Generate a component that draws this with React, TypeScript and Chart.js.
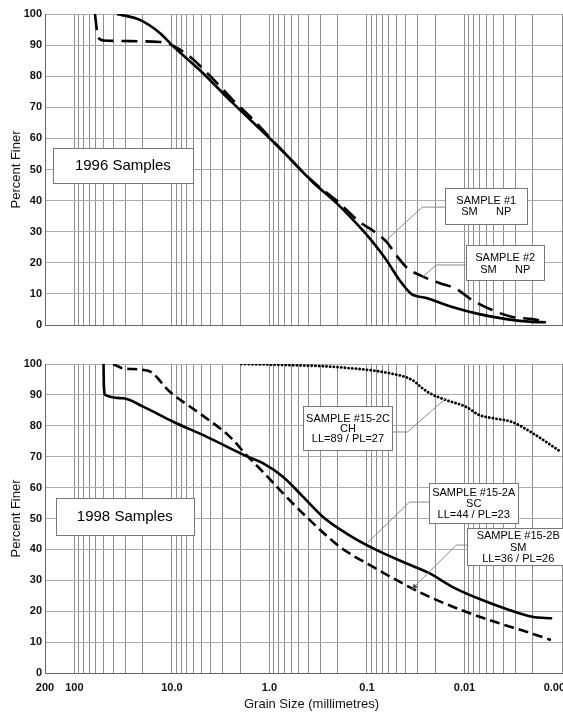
import React, { useEffect, useRef } from 'react';
import { Chart, registerables } from 'chart.js';

Chart.register(...registerables);

// ---------- axis ticks ----------
const xTickValues = [200, 100, 10, 1, 0.1, 0.01, 0.001];
const xTickLabels = ['200', '100', '10.0', '1.0', '0.1', '0.01', '0.001'];
const xMin = 0.001;
const xMax = 200;
const yMin = 0;
const yMax = 100;
const yStep = 10;

// ---------- 1996 samples ----------
const s1Size = [36.6, 21.3, 13.3, 10.0, 5.19, 2.38, 0.787, 0.361, 0.205, 0.1194, 0.0879, 0.0632, 0.0465, 0.0351, 0.0246, 0.01334, 0.00706, 0.00373, 0.00202, 0.00146];
const s1Finer = [100, 98.1, 93.9, 90, 82, 71.4, 56.9, 46, 39.2, 31.6, 26.8, 20.9, 14.5, 10, 8.7, 5.8, 3.5, 1.9, 1.0, 0.9];

const s2Size = [61.5, 57, 50, 13.3, 10.0, 6.56, 3.81, 2.38, 1.49, 0.787, 0.361, 0.205, 0.1194, 0.0838, 0.0632, 0.0488, 0.0385, 0.0277, 0.0181, 0.01213, 0.00832, 0.0052, 0.00324, 0.00202, 0.00146];
const s2Finer = [100, 92.5, 91.5, 91, 90, 86.3, 79.2, 72.4, 66.2, 57, 46.2, 40, 33.2, 30, 26.8, 22, 18.3, 15.8, 13.5, 11.6, 8, 4.8, 2.6, 1.9, 1.0];

// ---------- 1998 samples ----------
const s15aSize = [50.2, 49.9, 48.3, 31.6, 19.7, 9.72, 4.43, 1.725, 1.167, 0.728, 0.454, 0.284, 0.163, 0.0873, 0.0397, 0.0229, 0.01334, 0.00658, 0.00348, 0.00202, 0.00126];
const s15aFiner = [100, 93.5, 90, 88.9, 86.2, 81.3, 76.5, 70.2, 67.9, 63.5, 57.1, 50.6, 45.2, 40.4, 35.5, 32.3, 27.9, 23.6, 20.4, 18.2, 17.7];

const s15bSize = [40.0, 31.6, 17.5, 10.5, 5.19, 2.55, 1.725, 1.167, 0.728, 0.419, 0.191, 0.0873, 0.0345, 0.0212, 0.00966, 0.00441, 0.00235, 0.0013];
const s15bFiner = [100, 98.6, 97.8, 91.0, 84.0, 76.5, 70.6, 65.1, 58.2, 50.6, 40.9, 34.4, 27.4, 24.2, 19.8, 16.1, 13.4, 10.7];

const s15cSize = [1.94, 0.733, 0.205, 0.0589, 0.0342, 0.0271, 0.0229, 0.0153, 0.00959, 0.00706, 0.0052, 0.00324, 0.00202, 0.00102];
const s15cFiner = [100, 99.7, 99, 97.0, 94.8, 92.2, 90.6, 88.3, 86.1, 83.5, 82.5, 81.2, 77.7, 71.5];

// ---------- text ----------
const yTitle = 'Percent Finer';
const xTitle = 'Grain Size (millimetres)';
const FAMILY = '"Liberation Sans", Arial, Helvetica, sans-serif';

type Box = { x: number; y: number; w: number; h: number; lines: string[]; size: number; lh: number; dy: number };
type Leader = { pts: [number, number][]; arrow?: boolean };

const topBoxes: Box[] = [
  { x: 31.8, y: 51.3, w: 140, h: 35, lines: ['1996 Samples'], size: 15, lh: 0, dy: 0 },
  { x: 0.00598, y: 38.3, w: 82, h: 36, lines: ['SAMPLE #1', 'SM      NP'], size: 11, lh: 11, dy: 1 },
  { x: 0.00382, y: 20.1, w: 78, h: 35, lines: ['SAMPLE #2', 'SM      NP'], size: 11, lh: 12, dy: 1 },
];
const topLeaders: Leader[] = [
  { pts: [[0.01574, 37.9], [0.0271, 37.9], [0.0632, 27.3]] },
  { pts: [[0.00914, 19.3], [0.01945, 19.3], [0.0271, 15.4]] },
];

const botBoxes: Box[] = [
  { x: 30.4, y: 50.6, w: 138, h: 37, lines: ['1998 Samples'], size: 15, lh: 0, dy: 0 },
  { x: 0.1566, y: 79.3, w: 89, h: 44, lines: ['SAMPLE #15-2C', 'CH', 'LL=89 / PL=27'], size: 11, lh: 10, dy: 1 },
  { x: 0.00804, y: 55.0, w: 89, h: 40, lines: ['SAMPLE #15-2A', 'SC', 'LL=44 / PL=23'], size: 11, lh: 10.8, dy: 1 },
  { x: 0.00281, y: 40.9, w: 102, h: 37, lines: ['SAMPLE #15-2B', 'SM', 'LL=36 / PL=26'], size: 11, lh: 11.5, dy: 1 },
];
const botLeaders: Leader[] = [
  { pts: [[0.0548, 78.0], [0.0385, 78.0], [0.01535, 89.0]] },
  { pts: [[0.0229, 55.3], [0.0367, 55.3], [0.0989, 42.1]] },
  { pts: [[0.00937, 41.4], [0.01213, 41.4], [0.0351, 26.9]], arrow: true },
];

const CANVAS_W = 600;
const PLOT_RIGHT = 562;
const Y_AXIS_W = 45;

function buildXTicks(): number[] {
  const arr: number[] = [];
  for (let e = -3; e <= 2; e++) {
    for (let m = 1; m <= 9; m++) {
      const v = Number((m * Math.pow(10, e)).toPrecision(6));
      if (v >= xMin && v <= xMax) arr.push(v);
    }
  }
  return arr;
}

function toPts(xs: number[], ys: number[]) {
  return xs.map((v, i) => ({ x: v, y: ys[i] }));
}

function annotPlugin(boxes: Box[], leaders: Leader[], showXTitle: boolean) {
  return {
    id: 'annot',
    afterDatasetsDraw(chart: any) {
      const { ctx } = chart;
      const x = chart.scales.x;
      const y = chart.scales.y;
      ctx.save();
      ctx.strokeStyle = '#8a8a8a';
      ctx.lineWidth = 1;
      for (const l of leaders) {
        const pp = l.pts.map(([vx, vy]) => [x.getPixelForValue(vx), y.getPixelForValue(vy)]);
        ctx.beginPath();
        pp.forEach(([px, py], i) => (i ? ctx.lineTo(px, py) : ctx.moveTo(px, py)));
        ctx.stroke();
        if (l.arrow && pp.length > 1) {
          const [ax, ay] = pp[pp.length - 1];
          const [bx, by] = pp[pp.length - 2];
          const ang = Math.atan2(ay - by, ax - bx);
          const len = 7;
          ctx.fillStyle = '#555';
          ctx.beginPath();
          ctx.moveTo(ax, ay);
          ctx.lineTo(ax - len * Math.cos(ang - 0.4), ay - len * Math.sin(ang - 0.4));
          ctx.lineTo(ax - len * Math.cos(ang + 0.4), ay - len * Math.sin(ang + 0.4));
          ctx.closePath();
          ctx.fill();
        }
      }
      for (const b of boxes) {
        const cx = x.getPixelForValue(b.x);
        const cy = y.getPixelForValue(b.y);
        const left = Math.round(cx - b.w / 2) + 0.5;
        const top = Math.round(cy - b.h / 2) + 0.5;
        ctx.fillStyle = '#fff';
        ctx.fillRect(left, top, b.w, b.h);
        ctx.strokeStyle = '#777';
        ctx.lineWidth = 1;
        ctx.strokeRect(left, top, b.w, b.h);
        ctx.fillStyle = '#000';
        ctx.font = `${b.size}px ${FAMILY}`;
        ctx.textAlign = 'center';
        ctx.textBaseline = 'middle';
        const n = b.lines.length;
        b.lines.forEach((t, i) => ctx.fillText(t, cx, cy + b.dy + (i - (n - 1) / 2) * b.lh));
      }
      if (showXTitle) {
        const ca = chart.chartArea;
        ctx.fillStyle = '#111';
        ctx.font = `13px ${FAMILY}`;
        ctx.textAlign = 'center';
        ctx.textBaseline = 'middle';
        ctx.fillText(xTitle, (ca.left + ca.right) / 2 + 8, chart.height - 7.5);
      }
      ctx.restore();
    },
  };
}

type PanelProps = {
  height: number;
  padTop: number;
  padBottom: number;
  xHeight: number;
  showX: boolean;
  datasets: any[];
  boxes: Box[];
  leaders: Leader[];
  style: React.CSSProperties;
};

function Panel({ height, padTop, padBottom, xHeight, showX, datasets, boxes, leaders, style }: PanelProps) {
  const ref = useRef<HTMLCanvasElement | null>(null);
  useEffect(() => {
    if (!ref.current) return;
    const chart = new Chart(ref.current, {
      type: 'line',
      data: { datasets },
      options: {
        responsive: false,
        animation: false,
        devicePixelRatio: 1,
        layout: { padding: { left: 0, right: CANVAS_W - PLOT_RIGHT, top: padTop, bottom: padBottom } },
        plugins: { legend: { display: false }, tooltip: { enabled: false } },
        elements: { point: { radius: 0 } },
        scales: {
          x: {
            type: 'logarithmic',
            reverse: true,
            min: xMin,
            max: xMax,
            afterBuildTicks: (s: any) => {
              s.ticks = buildXTicks().map((v) => ({ value: v }));
            },
            afterFit: (s: any) => {
              s.height = xHeight;
            },
            grid: { color: '#8e8e8e', lineWidth: 1, drawTicks: false },
            border: { color: '#666', width: 1 },
            ticks: {
              display: showX,
              autoSkip: false,
              maxRotation: 0,
              minRotation: 0,
              padding: 8,
              color: '#111',
              font: { family: FAMILY, size: 11, weight: 'bold' },
              callback: (value: any) => {
                const v = Number(value);
                const i = xTickValues.findIndex((t) => Math.abs(t - v) / t < 1e-6);
                if (i < 0) return '';
                // the last label sits at the clipped right edge; pad so it reads as in the original
                return i === xTickValues.length - 1 ? xTickLabels[i] + '   ' : xTickLabels[i];
              },
            },
            title: { display: false },
          } as any,
          y: {
            min: yMin,
            max: yMax,
            afterFit: (s: any) => {
              s.width = Y_AXIS_W;
            },
            grid: { color: '#ababab', lineWidth: 1, drawTicks: false },
            border: { color: '#666', width: 1 },
            ticks: {
              stepSize: yStep,
              padding: 3,
              color: '#111',
              font: { family: FAMILY, size: 11, weight: 'bold' },
            },
            title: {
              display: true,
              text: yTitle,
              color: '#111',
              font: { family: FAMILY, size: 13 },
              padding: { top: 9, bottom: 0 },
            },
          } as any,
        },
      },
      plugins: [annotPlugin(boxes, leaders, showX)],
    } as any);
    return () => chart.destroy();
  }, []);
  return (
    <canvas
      ref={ref}
      width={CANVAS_W}
      height={height}
      style={{ position: 'absolute', left: 0, width: CANVAS_W, height, ...style }}
    />
  );
}

const solid = { borderColor: '#000', borderWidth: 2.6, fill: false, cubicInterpolationMode: 'monotone' };

const topDatasets = [
  { ...solid, label: 'SAMPLE #1', data: toPts(s1Size, s1Finer) },
  { ...solid, label: 'SAMPLE #2', data: toPts(s2Size, s2Finer), borderDash: [16, 8] },
];
const botDatasets = [
  { ...solid, label: 'SAMPLE #15-2A', data: toPts(s15aSize, s15aFiner) },
  { ...solid, label: 'SAMPLE #15-2B', data: toPts(s15bSize, s15bFiner), borderDash: [10, 5] },
  { ...solid, label: 'SAMPLE #15-2C', data: toPts(s15cSize, s15cFiner), borderDash: [0.1, 3.6], borderCapStyle: 'round', borderWidth: 2.8 },
];

export default function App() {
  return (
    <div style={{ position: 'absolute', left: 0, top: 0, width: 563, height: 712, overflow: 'hidden', background: '#fff' }}>
      <Panel height={340} padTop={14} padBottom={15} xHeight={0} showX={false} datasets={topDatasets} boxes={topBoxes} leaders={topLeaders} style={{ top: 0 }} />
      <Panel height={372} padTop={24} padBottom={0} xHeight={39} showX={true} datasets={botDatasets} boxes={botBoxes} leaders={botLeaders} style={{ top: 340 }} />
    </div>
  );
}
